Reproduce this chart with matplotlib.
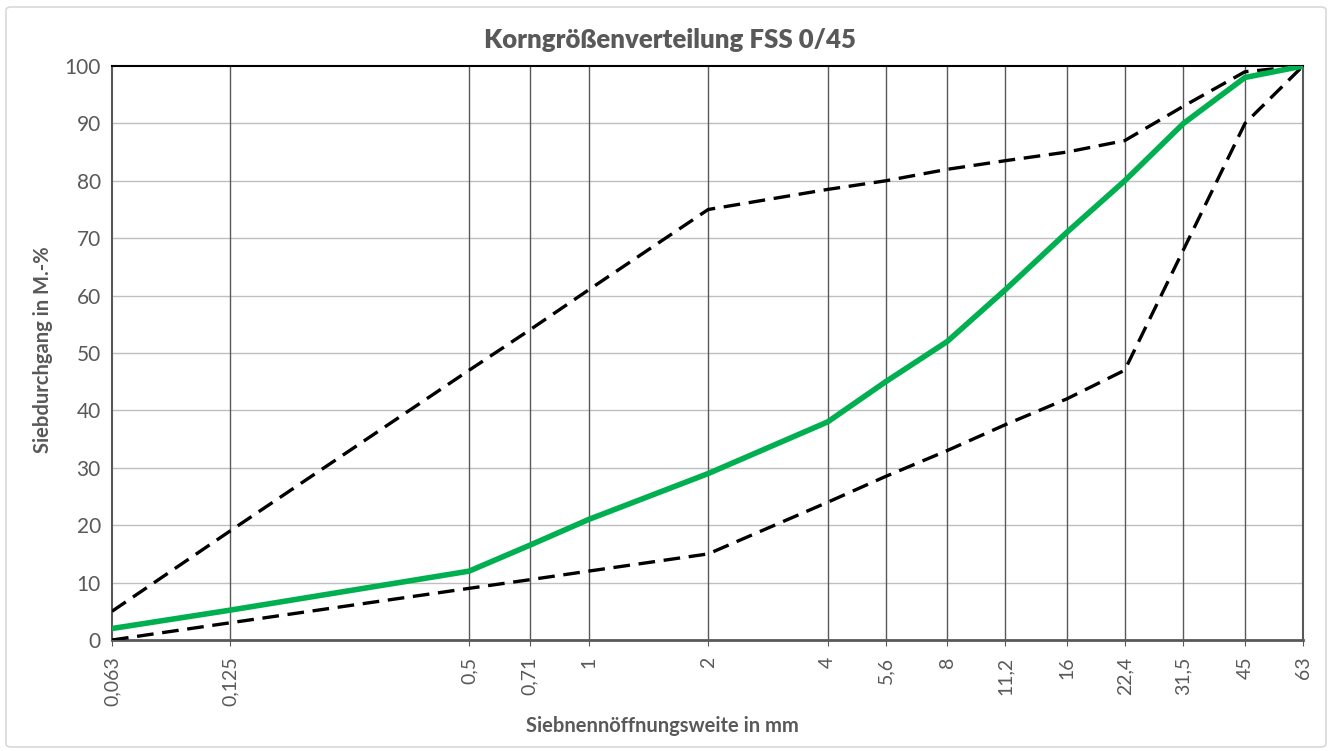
import numpy as np
import matplotlib.pyplot as plt
from matplotlib.patches import FancyBboxPatch

# sieve sizes (mm) and tick labels
sieves = [0.063, 0.125, 0.5, 0.71, 1, 2, 4, 5.6, 8, 11.2, 16, 22.4, 31.5, 45, 63]
sieve_labels = ["0,063", "0,125", "0,5", "0,71", "1", "2", "4", "5,6", "8",
                "11,2", "16", "22,4", "31,5", "45", "63"]

# passing in M.-%
upper_limit = [5, 19, 47, 54, 61, 75, 78.5, 80, 82, 83.5, 85, 87, 93, 99, 100]
lower_limit = [0, 3, 9, 10.5, 12, 15, 24, 28.5, 33, 37.5, 42, 47, 68, 90, 100]
fss_045 = [2, 5.2, 12, 16.5, 21, 29, 38, 45, 52, 61, 71, 80, 90, 98, 100]

plt.rcParams['font.family'] = ['Lato', 'DejaVu Sans']
txt = '#595959'

fig = plt.figure(figsize=(13.32, 7.51), dpi=100)
ax = fig.add_axes([112/1332, 1-640/751, (1303-112)/1332, (640-66)/751])

# outer chart frame
fig.patches.append(FancyBboxPatch((6/1332, 4/751), 1320/1332, 740/751,
                                  boxstyle="round,pad=0,rounding_size=0.004",
                                  transform=fig.transFigure, fill=False,
                                  edgecolor='#d9d9d9', linewidth=1.2))

ax.set_xscale('log')
ax.set_xlim(0.063, 63)
ax.set_ylim(0, 100)

for y in range(10, 100, 10):
    ax.axhline(y, color='#bfbfbf', lw=1.0, zorder=1)
for x in sieves[1:-1]:
    ax.axvline(x, color='#595959', lw=1.0, zorder=1)

ax.plot(sieves, upper_limit, color='black', lw=2.4, ls=(0, (5, 2.6)), zorder=3)
ax.plot(sieves, lower_limit, color='black', lw=2.4, ls=(0, (5, 2.6)), zorder=3)
ax.plot(sieves, fss_045, color='#00b050', lw=4, zorder=4, solid_joinstyle='miter')

ax.set_xticks(sieves)
ax.set_xticklabels(sieve_labels, rotation=90)
ax.xaxis.set_minor_locator(plt.NullLocator())
ax.set_yticks(range(0, 101, 10))
ax.tick_params(axis='x', length=4, color='#595959', labelsize=14, labelcolor=txt, pad=8)
ax.tick_params(axis='y', length=0, labelsize=15, labelcolor=txt, pad=8)

ax.spines['top'].set_color('black')
ax.spines['top'].set_linewidth(1.5)
ax.spines['left'].set_color('#595959')
ax.spines['right'].set_color('#595959')
ax.spines['bottom'].set_color('#595959')
ax.spines['bottom'].set_linewidth(2)
for s in ['left', 'right']:
    ax.spines[s].set_linewidth(1.5)

fig.text(670/1332, 1-40/751, "Korngrößenverteilung FSS 0/45", ha='center', va='center',
         fontsize=18.5, fontweight='heavy', color=txt)
fig.text(43/1332, 1-350/751, "Siebdurchgang in M.-%", ha='center', va='center',
         rotation=90, fontsize=14.5, fontweight='bold', color=txt)
fig.text(662/1332, 1-726/751, "Siebnennöffnungsweite in mm", ha='center', va='center',
         fontsize=14.5, fontweight='bold', color=txt)

fig.savefig('out.png', dpi=100)
